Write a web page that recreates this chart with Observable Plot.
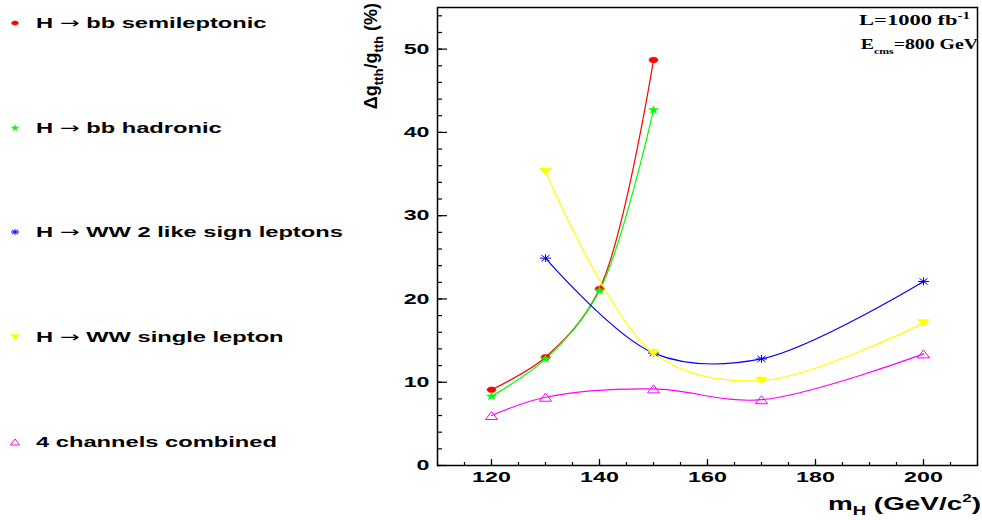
<!DOCTYPE html>
<html><head><meta charset="utf-8">
<script src="https://cdn.jsdelivr.net/npm/d3@7"></script>
<script src="https://cdn.jsdelivr.net/npm/@observablehq/plot@0.6"></script>
<style>
html,body{margin:0;padding:0;background:#fff;}
#wrap{position:relative;width:982px;height:520px;overflow:hidden;background:#fff;}
#legend{position:absolute;left:0;top:0;}
#chart{position:absolute;left:360px;top:0;}
</style></head><body>
<div id="wrap"><svg id="legend" width="360" height="520"></svg><div id="chart"></div></div>
<script>
// ---- data ----
const semiMass = [120, 130, 140, 150];
const semiVal  = [9.1, 13.0, 21.2, 48.7];
const hadMass  = [120, 130, 140, 150];
const hadVal   = [8.3, 12.8, 21.0, 42.7];
const likeMass = [130, 150, 170, 200];
const likeVal  = [24.9, 13.5, 12.8, 22.1];
const singleMass = [130, 150, 170, 200];
const singleVal  = [35.3, 13.5, 10.2, 17.1];
const combMass = [120, 130, 150, 170, 200];
const combVal  = [6.0, 8.2, 9.2, 7.9, 13.4];
const seriesLabels = [
  ["H ", "→", " bb semileptonic"],
  ["H ", "→", " bb hadronic"],
  ["H ", "→", " WW 2 like sign leptons"],
  ["H ", "→", " WW single lepton"],
  ["", "", "4 channels combined"]
];
const seriesColors = ["#ff0000", "#00ff00", "#0000ff", "#ffff00", "#ff00ff"];
const xTicks = [120, 140, 160, 180, 200];
const xMinor = d3.range(110, 210.01, 5);
const yTicks = [0, 10, 20, 30, 40, 50];
const yMinor = d3.range(0, 55.01, 2);

// ---- marker shapes ----
function ellipseSym(k){return {draw(c){const rx=4.5*k, ry=2.8*k; c.moveTo(rx,0); for(let i=1;i<=24;i++){const a=i/24*2*Math.PI; c.lineTo(rx*Math.cos(a), ry*Math.sin(a));} c.closePath();}};}
function starSym(k){return {draw(c){for(let i=0;i<10;i++){const a=-Math.PI/2+i*Math.PI/5, r=(i%2?1.7:4.2)*k; const x=1.25*r*Math.cos(a), y=r*Math.sin(a); if(i===0)c.moveTo(x,y); else c.lineTo(x,y);} c.closePath();}};}
function asteriskSym(k){return {draw(c){c.moveTo(-5.5*k,0);c.lineTo(5.5*k,0);c.moveTo(0,-4*k);c.lineTo(0,4*k);c.moveTo(-4*k,-3*k);c.lineTo(4*k,3*k);c.moveTo(-4*k,3*k);c.lineTo(4*k,-3*k);}};}
function triDownSym(k){return {draw(c){c.moveTo(-6*k,-3.5*k);c.lineTo(6*k,-3.5*k);c.lineTo(0,3.5*k);c.closePath();}};}
function triUpSym(k){return {draw(c){c.moveTo(-6*k,4*k);c.lineTo(6*k,4*k);c.lineTo(0,-4*k);c.closePath();}};}

const rows = (xs, ys) => xs.map((m, i) => ({m, v: ys[i]}));
const series = [
  {data: rows(semiMass, semiVal), sym: ellipseSym, filled: true},
  {data: rows(hadMass, hadVal), sym: starSym, filled: true},
  {data: rows(likeMass, likeVal), sym: asteriskSym, filled: false},
  {data: rows(singleMass, singleVal), sym: triDownSym, filled: true},
  {data: rows(combMass, combVal), sym: triUpSym, filled: false}
];

const W = 622, H = 520, mL = 77, mR = 5, mT = 7, mB = 55;
const innerW = W - mL - mR, innerH = H - mT - mB;

const marks = [
  Plot.tickY(yMinor, {y: d => d, insetRight: innerW - 5, stroke: "#000", strokeWidth: 1.2}),
  Plot.tickY(yTicks, {y: d => d, insetRight: innerW - 10, stroke: "#000", strokeWidth: 1.2}),
  Plot.tickX(xMinor, {x: d => d, insetTop: innerH - 3, stroke: "#000", strokeWidth: 1.2}),
  Plot.tickX(xTicks, {x: d => d, insetTop: innerH - 6, stroke: "#000", strokeWidth: 1.2}),
  Plot.axisX(xTicks, {tickSize: 0, tickPadding: 6, label: null}),
  Plot.axisY(yTicks, {tickSize: 0, tickPadding: 8, label: null}),
  Plot.frame({stroke: "#000", strokeWidth: 1.5})
];
series.forEach((s, i) => {
  marks.push(Plot.line(s.data, {x: "m", y: "v", stroke: seriesColors[i], strokeWidth: 1.2, curve: "catmull-rom"}));
});
series.forEach((s, i) => {
  marks.push(Plot.dot(s.data, {x: "m", y: "v", r: 4, symbol: s.sym(1),
    fill: s.filled ? seriesColors[i] : "none", stroke: seriesColors[i], strokeWidth: s.filled ? 0.5 : 1}));
});

const chart = Plot.plot({
  width: W, height: H,
  marginLeft: mL, marginRight: mR, marginTop: mT, marginBottom: mB,
  x: {domain: [110, 210]},
  y: {domain: [0, 55]},
  style: {fontFamily: '"Liberation Sans", Arial, sans-serif', fontSize: "15px", fontWeight: "bold", color: "#000", background: "transparent", overflow: "visible"},
  marks
});
document.getElementById("chart").appendChild(chart);

// horizontal stretch of tick labels (the reference glyphs are wider than tall)
const SX = 1.55;
function stretchText(node, sx) {
  const r = node.getBoundingClientRect();
  const anchor = getComputedStyle(node).textAnchor;
  const cx = anchor === "end" ? r.right : anchor === "middle" ? (r.left + r.right) / 2 : r.left;
  const parent = node.parentNode;
  const p = new DOMPoint(cx, r.top).matrixTransform(parent.getScreenCTM().inverse());
  const g = document.createElementNS("http://www.w3.org/2000/svg", "g");
  g.setAttribute("transform", `translate(${p.x},0) scale(${sx},1) translate(${-p.x},0)`);
  parent.insertBefore(g, node);
  g.appendChild(node);
}
Array.from(chart.querySelectorAll("g[aria-label$='tick label'] text")).forEach(n => stretchText(n, SX));

const svg = d3.select(chart);
// x-axis title
const xt = svg.append("text").attr("transform", `translate(${W - 1},510) scale(${SX},1)`)
  .attr("text-anchor", "end").attr("font-family", '"Liberation Sans", Arial, sans-serif')
  .attr("font-weight", "bold").attr("font-size", 18).attr("fill", "#000");
xt.append("tspan").text("m");
xt.append("tspan").attr("font-size", 12).attr("dy", 5).text("H");
xt.append("tspan").attr("dy", -5).text(" (GeV/c");
xt.append("tspan").attr("font-size", 11).attr("dy", -8).text("2");
xt.append("tspan").attr("dy", 8).text(")");
// y-axis title
const yt = svg.append("text").attr("transform", `translate(17,3) rotate(-90)`)
  .attr("text-anchor", "end").attr("font-family", '"Liberation Sans", Arial, sans-serif')
  .attr("font-weight", "bold").attr("font-size", 18).attr("fill", "#000");
yt.append("tspan").text("Δg");
yt.append("tspan").attr("font-size", 13).attr("dy", 6).text("tth");
yt.append("tspan").attr("dy", -6).text("/g");
yt.append("tspan").attr("font-size", 13).attr("dy", 6).text("tth");
yt.append("tspan").attr("dy", -6).text(" (%)");
// info text
const serif = '"Liberation Serif", "Times New Roman", serif';
const t1 = svg.append("text").attr("transform", `translate(${W - 12},25) scale(1.5,1)`)
  .attr("text-anchor", "end").attr("font-family", serif).attr("font-weight", "bold").attr("font-size", 15).attr("fill", "#000");
t1.append("tspan").text("L=1000 fb");
t1.append("tspan").attr("font-size", 10).attr("dy", -6).text("-1");
const t2 = svg.append("text").attr("transform", `translate(${W - 4},49) scale(1.32,1)`)
  .attr("text-anchor", "end").attr("font-family", serif).attr("font-weight", "bold").attr("font-size", 15).attr("fill", "#000");
t2.append("tspan").text("E");
t2.append("tspan").attr("font-size", 9).attr("dy", 5).text("cms");
t2.append("tspan").attr("dy", -5).text("=800 GeV");

// ---- legend ----
const leg = d3.select("#legend");
const legBase = [28, 133, 237, 342, 447];
seriesLabels.forEach((lab, i) => {
  const s = series[i];
  leg.append("path").attr("transform", `translate(15,${legBase[i] - 5})`)
    .attr("d", d3.symbol().type(s.sym(0.75))())
    .attr("fill", s.filled ? seriesColors[i] : "none").attr("stroke", seriesColors[i])
    .attr("stroke-width", s.filled ? 0.5 : 1);
  const t = leg.append("text").attr("transform", `translate(36,${legBase[i]}) scale(1.58,1)`)
    .attr("font-family", '"Liberation Sans", Arial, sans-serif').attr("font-size", 15)
    .attr("font-weight", "bold").attr("fill", "#000");
  t.append("tspan").text(lab[0]);
  if (lab[1]) t.append("tspan").attr("font-weight", "normal").attr("font-family", '"DejaVu Sans", sans-serif').text(lab[1]);
  t.append("tspan").text(lab[2]);
});
</script>
</body></html>
